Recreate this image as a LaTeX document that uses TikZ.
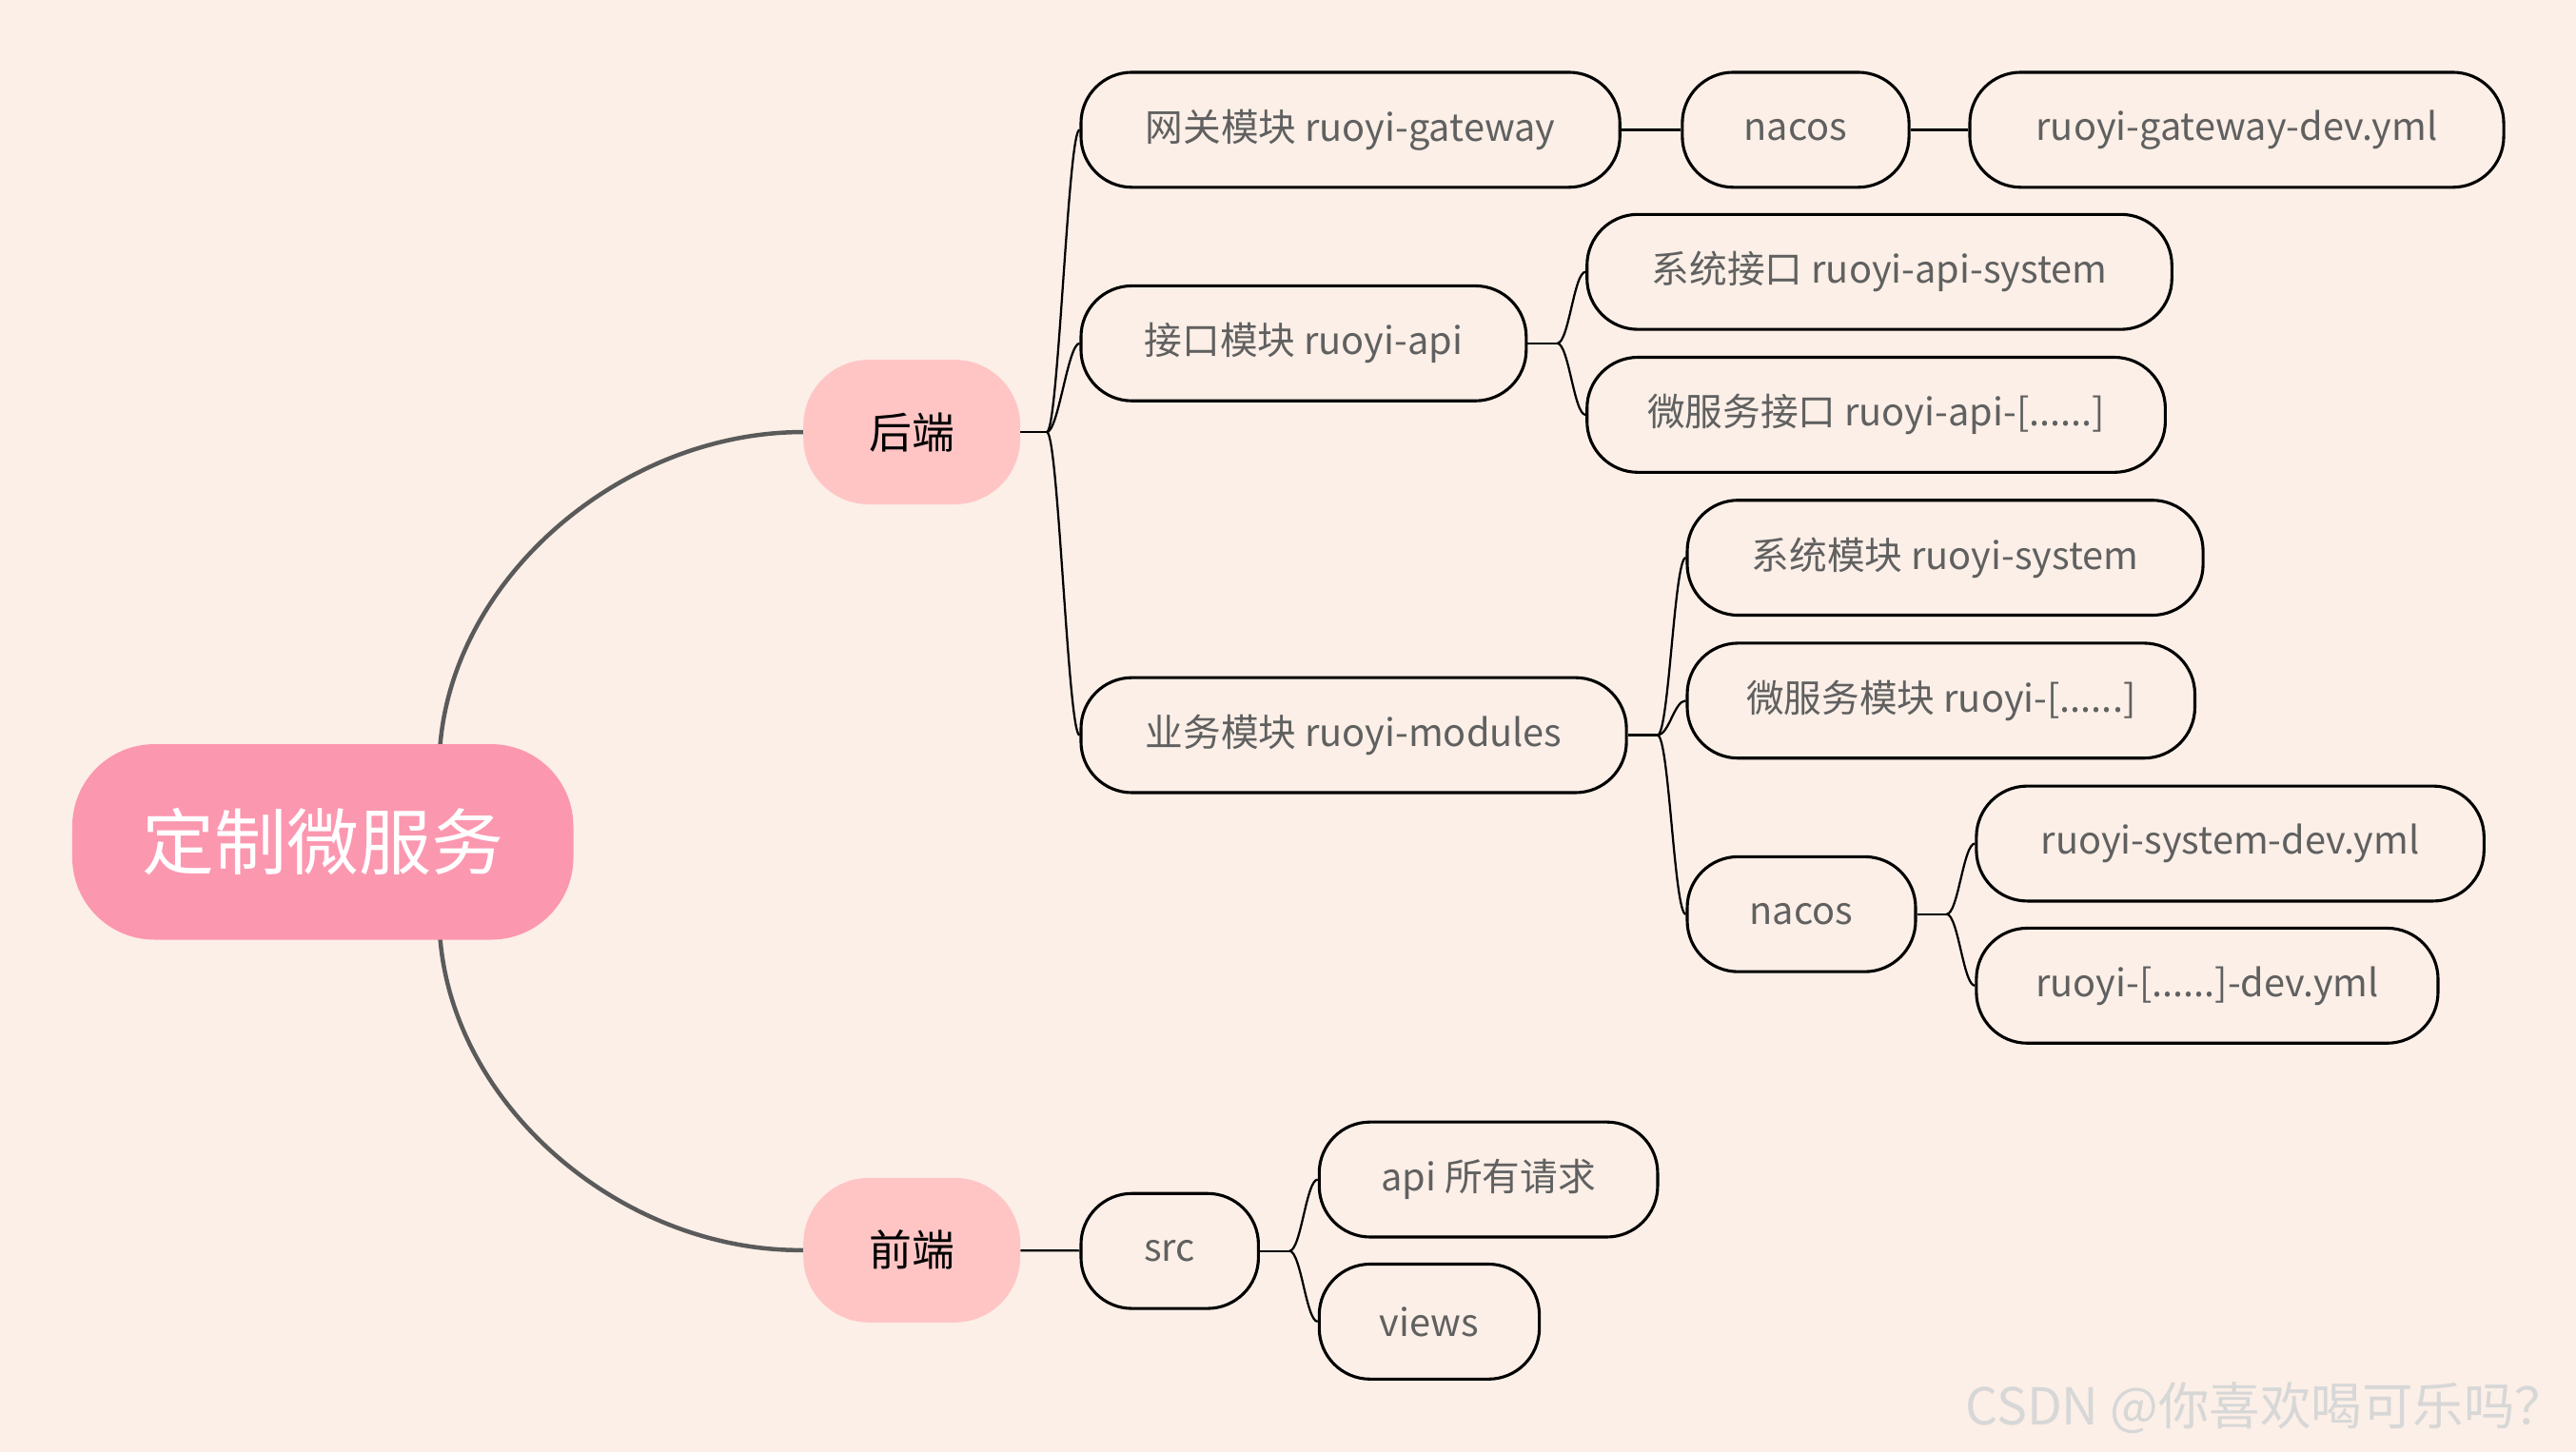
\documentclass[tikz,border=0pt]{standalone}
\usepackage{fontspec}
\setmainfont{Noto Sans CJK SC}
\definecolor{bgcol}{RGB}{251,239,231}
\definecolor{rootcol}{RGB}{252,151,176}
\definecolor{subcol}{RGB}{255,197,197}
\definecolor{txtcol}{RGB}{96,96,96}
\definecolor{rootline}{RGB}{90,90,90}
\definecolor{wmcol}{RGB}{215,215,215}
\pgfdeclarelayer{bg}
\pgfdeclarelayer{lines}
\pgfsetlayers{bg,lines,main}
\tikzset{
  leaf/.style={draw=black, line width=1.8pt, fill=bgcol, rounded corners=31pt,
    minimum height=70pt, text=txtcol, font=\fontsize{23}{27}\selectfont, inner sep=0pt},
  mid/.style={fill=subcol, rounded corners=40pt, minimum width=132pt, minimum height=88pt,
    text=black, font=\fontsize{26}{30}\selectfont, inner sep=0pt},
  rootbox/.style={fill=rootcol, rounded corners=50pt, minimum width=305pt, minimum height=119pt,
    text=white, font=\fontsize{44}{50}\selectfont, inner sep=0pt},
  conn/.style={draw=black, line width=1.3pt},
  rconn/.style={draw=rootline, line width=2.6pt},
}
\newcommand{\brk}[2]{\draw[conn] (#1) .. controls +(7,0) and +(-7,0) .. (#2.west);}
\begin{document}
\begin{tikzpicture}[x=1pt,y=-1pt]
\begin{pgfonlayer}{bg}
\fill[bgcol] (0,0) rectangle (1568,884);
\end{pgfonlayer}
\useasboundingbox (0,0) rectangle (1568,884);

\node[rootbox] (root) at (196.5,512.5) {定制微服务};
\node[mid] (back) at (555,263) {后端};
\node[mid] (front) at (555,761) {前端};

\node[leaf, minimum width=328pt] (gw) at (822,79) {网关模块 ruoyi-gateway};
\node[leaf, minimum width=138pt] (nacosA) at (1093,79) {nacos};
\node[leaf, minimum width=325pt] (gwyml) at (1361.5,79) {ruoyi-gateway-dev.yml};
\node[leaf, minimum width=271pt] (api) at (793.5,209) {接口模块 ruoyi-api};
\node[leaf, minimum width=356pt] (apisys) at (1144,165.5) {系统接口 ruoyi-api-system};
\node[leaf, minimum width=352pt] (apims) at (1142,252.5) {微服务接口 ruoyi-api-[......]};
\node[leaf, minimum width=332pt] (mod) at (824,447.5) {业务模块 ruoyi-modules};
\node[leaf, minimum width=314pt] (modsys) at (1184,339.5) {系统模块 ruoyi-system};
\node[leaf, minimum width=309pt] (modms) at (1181.5,426.5) {微服务模块 ruoyi-[......]};
\node[leaf, minimum width=139pt] (nacosB) at (1096.5,556.5) {nacos};
\node[leaf, minimum width=309pt] (sysyml) at (1357.5,513.5) {ruoyi-system-dev.yml};
\node[leaf, minimum width=281pt] (msyml) at (1343.5,600) {ruoyi-[......]-dev.yml};
\node[leaf, minimum width=108pt] (src) at (712,761.5) {src};
\node[leaf, minimum width=206pt] (apireq) at (906,718) {api 所有请求};
\node[leaf, minimum width=134pt] (views) at (870,804.5) {views};

\node[text=wmcol, font=\fontsize{31}{36}\selectfont, anchor=east, inner sep=0pt] (wm) at (1562,857) {CSDN @你喜欢喝可乐吗？};

\begin{pgfonlayer}{lines}
\coordinate (rt) at ([xshift=71.5pt,yshift=-40pt]root.north);
\coordinate (rb) at ([xshift=71.5pt,yshift=40pt]root.south);
\draw[rconn] (rt) -- ([xshift=71.5pt]root.north) .. controls +(9,-103) and (380,263) .. (back.west);
\draw[rconn] (rb) -- ([xshift=71.5pt]root.south) .. controls +(9,103) and (380,762) .. (front.west);

\coordinate (jb) at ([xshift=16pt]back.east);
\draw[conn] (back.east) -- (jb);
\brk{jb}{gw}
\brk{jb}{api}
\brk{jb}{mod}
\draw[conn] (gw) -- (nacosA);
\draw[conn] (nacosA) -- (gwyml);

\coordinate (ja) at ([xshift=18pt]api.east);
\draw[conn] (api.east) -- (ja);
\brk{ja}{apisys}
\brk{ja}{apims}

\coordinate (jm) at ([xshift=18pt]mod.east);
\draw[conn] (mod.east) -- (jm);
\brk{jm}{modsys}
\brk{jm}{modms}
\brk{jm}{nacosB}

\coordinate (jn) at ([xshift=18pt]nacosB.east);
\draw[conn] (nacosB.east) -- (jn);
\brk{jn}{sysyml}
\brk{jn}{msyml}

\draw[conn] (front) -- (src);
\coordinate (js) at ([xshift=18pt]src.east);
\draw[conn] (src.east) -- (js);
\brk{js}{apireq}
\brk{js}{views}
\end{pgfonlayer}
\end{tikzpicture}
\end{document}
